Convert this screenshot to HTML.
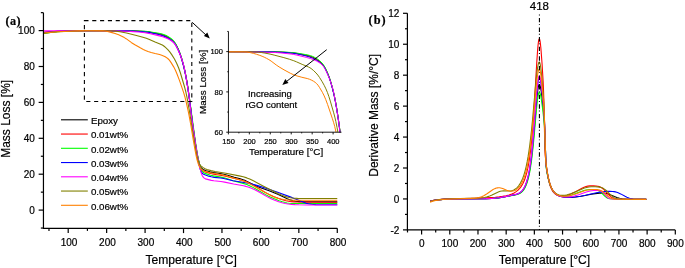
<!DOCTYPE html>
<html><head><meta charset="utf-8"><style>
html,body{margin:0;padding:0;background:#fff;overflow:hidden;}
svg{display:block;will-change:transform;filter:blur(0.25px);}
text{font-family:"Liberation Sans",sans-serif;fill:#000;stroke:#000;stroke-width:0.2px;}
.serif{font-family:"Liberation Serif",serif;font-weight:bold;}
</style></head><body>
<svg width="685" height="268" viewBox="0 0 685 268">
<rect width="685" height="268" fill="#fff"/>
<clipPath id="ca"><rect x="43.45" y="0" width="300" height="228.3"/></clipPath>
<clipPath id="ci"><rect x="228.45" y="20" width="113.03" height="112.19999999999999"/></clipPath>
<!-- panel a curves -->
<g fill="none" stroke-width="1.1" stroke-linejoin="round" clip-path="url(#ca)">
<path d="M43.60 32.63L52.02 31.81L57.70 31.35L63.19 31.03L68.48 30.87L83.17 30.70L100.22 30.71L126.47 30.87L135.48 31.08L145.87 31.60L148.41 31.90L151.75 32.46L158.60 33.76L161.93 34.57L164.68 35.54L167.61 37.02L170.55 38.90L172.71 40.70L174.47 42.65L175.26 43.75L176.04 45.04L178.19 49.34L179.96 53.56L181.52 58.19L183.29 64.46L184.46 69.24L185.64 74.75L186.62 80.03L187.79 87.18L189.75 100.89L192.10 119.65L193.28 128.39L195.63 144.50L197.00 153.03L198.18 158.95L199.35 163.50L199.94 165.20L200.53 166.53L201.12 167.54L201.90 168.50L203.08 169.41L204.45 170.11L206.21 170.73L209.93 171.85L213.66 172.66L221.30 173.77L224.82 174.46L227.57 175.18L234.23 177.16L240.30 178.80L243.04 179.67L244.81 180.34L246.57 181.13L253.62 184.78L257.35 186.49L261.26 188.03L269.10 190.74L272.82 192.14L277.72 194.24L287.32 198.76L290.26 199.90L293.00 200.71L295.16 201.17L297.31 201.47L299.66 201.67L302.41 201.79L337.28 201.84" stroke="#000000"/>
<path d="M43.60 32.28L53.20 31.55L60.06 31.14L66.13 30.91L74.16 30.78L86.90 30.69L110.41 30.75L127.26 30.88L135.09 31.12L145.67 31.78L148.41 32.13L151.55 32.71L158.21 34.11L161.93 35.10L165.26 36.31L168.40 37.89L170.95 39.55L172.12 40.52L173.10 41.45L174.86 43.52L176.43 46.01L178.39 49.94L180.15 54.26L181.72 59.01L183.48 65.40L184.66 70.28L185.84 75.93L186.81 81.34L187.99 88.63L189.75 101.17L193.08 127.52L195.83 146.23L197.20 154.76L198.37 160.69L199.55 165.19L200.14 166.87L200.72 168.19L201.31 169.18L202.10 170.10L203.27 170.96L204.64 171.61L206.99 172.40L210.52 173.45L213.85 174.19L221.69 175.49L225.61 176.29L240.50 179.97L243.24 180.75L245.59 181.54L248.72 182.83L252.06 184.51L254.99 186.22L264.40 191.98L267.34 193.62L270.28 195.11L274.00 196.75L278.11 198.32L282.42 199.76L285.95 200.73L288.50 201.26L291.24 201.67L293.98 201.92L297.12 202.06L306.52 202.16L337.28 202.20" stroke="#ff0000"/>
<path d="M43.60 33.51L50.85 32.53L57.90 31.78L63.78 31.28L68.87 31.03L77.88 30.79L85.52 30.69L125.88 30.69L131.17 30.75L137.44 30.96L144.89 31.35L147.63 31.59L150.57 31.99L158.80 33.32L162.13 34.03L163.50 34.43L164.87 34.94L166.24 35.57L167.81 36.41L170.55 38.20L171.73 39.15L172.71 40.08L173.69 41.13L174.67 42.36L176.24 44.85L178.19 48.87L179.96 53.30L181.72 58.61L183.29 64.21L184.46 69.02L185.44 73.59L186.42 78.75L187.60 85.76L189.56 99.08L194.85 137.76L196.22 146.91L197.59 155.14L198.96 162.04L200.14 166.59L200.72 168.34L201.51 170.13L202.10 171.10L202.88 172.00L203.86 172.77L205.04 173.39L210.52 175.22L213.46 175.91L220.71 177.12L224.04 177.84L226.59 178.57L233.05 180.67L242.26 183.13L246.77 184.60L250.10 185.98L253.43 187.62L256.76 189.48L265.57 194.62L268.12 195.99L270.67 197.25L274.39 198.86L279.09 200.67L282.42 201.82L285.17 202.58L287.12 202.97L289.28 203.26L291.63 203.43L294.37 203.53L337.28 203.64" stroke="#00ff00"/>
<path d="M43.60 32.63L52.02 31.81L57.70 31.35L63.19 31.03L68.28 30.87L83.17 30.70L101.00 30.71L126.08 30.87L133.13 31.08L139.40 31.45L145.87 31.98L149.00 32.41L152.92 33.17L158.01 34.30L162.13 35.50L165.66 36.87L168.79 38.49L171.34 40.17L172.51 41.14L173.49 42.09L174.28 42.96L175.06 43.99L176.63 46.66L178.98 51.57L180.55 55.57L182.11 60.64L183.88 67.32L185.05 72.45L186.03 77.41L187.01 83.01L188.19 90.47L189.95 103.11L192.10 120.75L193.28 129.72L195.63 145.93L197.00 154.54L198.37 161.77L199.75 167.63L200.33 169.55L200.92 171.07L201.51 172.21L202.29 173.22L203.47 174.15L204.84 174.83L208.76 176.15L211.30 176.83L214.24 177.35L220.71 178.05L223.65 178.50L233.05 180.78L242.65 182.30L249.31 183.58L253.82 184.62L258.52 185.90L266.75 188.44L276.15 191.70L291.63 197.39L303.78 202.35L306.13 203.16L308.28 203.74L311.61 204.32L315.73 204.60L337.28 204.71" stroke="#0000ff"/>
<path d="M43.60 30.86L52.61 30.69L97.67 30.73L109.82 30.88L122.75 31.15L128.24 31.31L132.94 31.58L138.62 32.07L144.89 32.77L147.44 33.16L150.37 33.77L159.39 35.86L162.72 36.78L164.68 37.45L166.64 38.25L168.40 39.08L170.16 40.05L172.32 41.52L174.08 43.14L175.26 44.64L176.63 47.01L178.78 51.46L180.55 55.70L182.70 61.90L183.88 66.16L184.66 69.80L185.84 76.14L188.38 91.59L189.36 98.63L191.12 113.65L191.91 119.60L194.85 139.66L197.39 155.31L199.16 164.49L199.94 168.07L200.72 171.21L201.51 173.76L202.10 175.24L202.88 176.69L203.66 177.68L204.45 178.35L205.43 178.85L211.30 180.39L213.85 180.81L220.90 181.55L224.63 182.10L233.64 184.04L243.44 185.82L245.98 186.41L248.14 187.02L251.47 188.25L254.80 189.80L258.13 191.60L266.95 196.63L269.69 198.05L272.24 199.25L275.37 200.54L278.70 201.72L282.03 202.70L285.17 203.43L288.10 203.94L291.44 204.36L294.96 204.65L298.88 204.82L308.09 204.93L337.28 204.98" stroke="#ff00ff"/>
<path d="M43.60 33.34L52.22 32.28L57.70 31.76L65.54 31.35L75.14 30.98L85.33 30.79L108.25 30.78L111.39 30.86L115.50 31.15L120.01 31.77L126.47 33.00L136.46 35.47L142.93 37.27L146.26 38.32L148.81 39.25L155.08 41.97L159.97 43.90L162.32 45.05L163.50 45.79L164.68 46.69L167.81 49.59L169.77 51.82L171.73 54.65L174.47 59.07L176.63 63.17L178.59 67.74L180.35 72.77L184.66 87.26L185.84 91.97L187.01 97.51L189.36 110.56L192.50 130.48L194.85 144.55L196.22 152.37L197.20 157.20L197.98 160.28L198.96 163.05L199.35 163.85L199.94 164.79L200.92 165.86L203.27 167.65L205.04 168.71L206.99 169.46L210.91 170.62L215.03 171.53L225.80 173.30L239.12 175.86L243.24 176.80L246.77 177.90L249.70 179.09L252.84 180.58L263.03 185.91L274.98 192.07L278.31 193.71L280.86 194.85L283.40 195.86L285.75 196.65L288.10 197.29L290.26 197.74L292.41 198.06L294.77 198.27L297.51 198.38L337.28 198.43" stroke="#808000"/>
<path d="M43.60 32.99L52.61 32.13L58.29 31.71L69.66 31.19L79.06 30.88L87.48 30.78L102.77 30.86L104.72 30.99L107.47 31.50L111.19 32.38L115.11 33.57L118.64 34.85L121.77 36.27L124.32 37.61L126.08 38.67L131.57 42.67L134.90 44.79L139.79 47.56L143.32 49.42L145.48 50.47L148.02 51.49L151.16 52.49L155.08 53.54L159.58 54.53L161.74 55.20L163.50 55.92L165.26 56.82L166.64 57.68L168.01 58.75L169.38 60.16L170.95 62.36L173.69 66.87L175.45 70.30L177.02 73.97L178.98 79.13L181.72 86.93L183.88 93.41L184.86 96.72L185.84 100.61L187.79 109.20L188.97 114.85L190.73 124.51L193.28 139.97L194.85 148.99L196.02 155.18L197.00 159.59L198.18 163.67L198.77 165.23L199.55 166.88L200.33 168.13L201.12 169.07L201.90 169.79L202.88 170.46L203.86 170.92L205.23 171.37L210.52 172.69L213.66 173.30L220.71 174.43L224.24 175.20L226.59 175.88L232.86 177.91L240.30 180.01L243.44 181.06L247.16 182.59L251.47 184.71L256.56 187.49L266.36 193.09L270.86 195.42L273.61 196.65L276.15 197.63L278.70 198.45L281.05 199.04L283.60 199.52L286.15 199.84L288.89 200.05L292.22 200.17L337.28 200.23" stroke="#ff8000"/>
</g>
<g stroke="#000" stroke-width="1.2" fill="none">
<path d="M43.45 12.65V228.3H337.28"/>
<line x1="38.65" y1="210.10" x2="43.45" y2="210.10"/>
<line x1="38.65" y1="174.20" x2="43.45" y2="174.20"/>
<line x1="38.65" y1="138.30" x2="43.45" y2="138.30"/>
<line x1="38.65" y1="102.40" x2="43.45" y2="102.40"/>
<line x1="38.65" y1="66.50" x2="43.45" y2="66.50"/>
<line x1="38.65" y1="30.60" x2="43.45" y2="30.60"/>
<line x1="40.85" y1="228.05" x2="43.45" y2="228.05"/>
<line x1="40.85" y1="192.15" x2="43.45" y2="192.15"/>
<line x1="40.85" y1="156.25" x2="43.45" y2="156.25"/>
<line x1="40.85" y1="120.35" x2="43.45" y2="120.35"/>
<line x1="40.85" y1="84.45" x2="43.45" y2="84.45"/>
<line x1="40.85" y1="48.55" x2="43.45" y2="48.55"/>
<line x1="40.85" y1="12.65" x2="43.45" y2="12.65"/>
<line x1="68.20" y1="228.30" x2="68.20" y2="233.10"/>
<line x1="106.64" y1="228.30" x2="106.64" y2="233.10"/>
<line x1="145.08" y1="228.30" x2="145.08" y2="233.10"/>
<line x1="183.52" y1="228.30" x2="183.52" y2="233.10"/>
<line x1="221.96" y1="228.30" x2="221.96" y2="233.10"/>
<line x1="260.40" y1="228.30" x2="260.40" y2="233.10"/>
<line x1="298.84" y1="228.30" x2="298.84" y2="233.10"/>
<line x1="337.28" y1="228.30" x2="337.28" y2="233.10"/>
<line x1="48.98" y1="228.30" x2="48.98" y2="230.90"/>
<line x1="87.42" y1="228.30" x2="87.42" y2="230.90"/>
<line x1="125.86" y1="228.30" x2="125.86" y2="230.90"/>
<line x1="164.30" y1="228.30" x2="164.30" y2="230.90"/>
<line x1="202.74" y1="228.30" x2="202.74" y2="230.90"/>
<line x1="241.18" y1="228.30" x2="241.18" y2="230.90"/>
<line x1="279.62" y1="228.30" x2="279.62" y2="230.90"/>
<line x1="318.06" y1="228.30" x2="318.06" y2="230.90"/>
</g>
<!-- legend -->
<g stroke-width="1.1">
<line x1="61" y1="119.80" x2="87.8" y2="119.80" stroke="#000000"/>
<text x="90.90" y="124.00" font-size="9.75" text-anchor="start">Epoxy</text>
<line x1="61" y1="134.05" x2="87.8" y2="134.05" stroke="#ff0000"/>
<text x="90.90" y="138.25" font-size="9.75" text-anchor="start">0.01wt%</text>
<line x1="61" y1="148.30" x2="87.8" y2="148.30" stroke="#00ff00"/>
<text x="90.90" y="152.50" font-size="9.75" text-anchor="start">0.02wt%</text>
<line x1="61" y1="162.55" x2="87.8" y2="162.55" stroke="#0000ff"/>
<text x="90.90" y="166.75" font-size="9.75" text-anchor="start">0.03wt%</text>
<line x1="61" y1="176.80" x2="87.8" y2="176.80" stroke="#ff00ff"/>
<text x="90.90" y="181.00" font-size="9.75" text-anchor="start">0.04wt%</text>
<line x1="61" y1="191.05" x2="87.8" y2="191.05" stroke="#808000"/>
<text x="90.90" y="195.25" font-size="9.75" text-anchor="start">0.05wt%</text>
<line x1="61" y1="205.30" x2="87.8" y2="205.30" stroke="#ff8000"/>
<text x="90.90" y="209.50" font-size="9.75" text-anchor="start">0.06wt%</text>
</g>
<!-- dashed box + arrow -->
<path d="M84.4 20.6H191.8V101.5H84.4Z" fill="none" stroke="#000" stroke-width="1.1" stroke-dasharray="4.1,3.73"/>
<line x1="192.2" y1="22.3" x2="206.5" y2="35.5" stroke="#000" stroke-width="1"/>
<path d="M209.8 38.6L203.9 35.9L207.3 32.4Z" fill="#000"/>
<!-- inset -->
<g fill="none" stroke-width="1" stroke-linejoin="round" clip-path="url(#ci)">
<path d="M228.40 51.70L251.47 51.76L273.40 51.94L283.88 52.26L290.10 52.59L292.93 52.81L296.90 53.39L304.68 54.88L307.79 55.57L310.34 56.30L312.61 57.16L314.87 58.29L317.42 59.83L319.68 61.47L321.66 63.29L323.36 65.29L324.63 67.25L326.19 70.24L327.89 74.00L329.45 78.01L330.86 82.35L332.28 87.41L333.55 92.48L334.68 97.54L335.82 103.33L336.81 109.06L337.94 116.32L339.21 125.34L341.48 143.49" stroke="#000000"/>
<path d="M228.40 51.70L251.75 51.76L272.98 51.94L282.74 52.30L292.51 52.99L296.47 53.61L303.41 55.07L306.94 55.89L309.92 56.75L312.61 57.75L315.15 58.96L317.70 60.44L319.68 61.87L321.66 63.70L323.36 65.68L324.78 67.83L326.33 70.77L328.03 74.53L329.59 78.60L330.86 82.55L332.28 87.61L333.69 93.28L334.82 98.42L335.82 103.54L336.95 110.13L338.08 117.48L339.21 125.58L341.48 143.99" stroke="#ff0000"/>
<path d="M228.40 51.70L273.55 51.72L282.74 52.00L292.79 52.58L296.61 53.07L305.53 54.54L308.22 55.06L310.48 55.64L312.61 56.40L314.73 57.41L317.13 58.84L319.26 60.35L321.10 62.01L322.94 64.10L324.35 66.17L325.77 68.77L327.47 72.50L329.02 76.53L330.58 81.18L331.99 86.07L333.27 91.03L334.40 95.98L335.39 100.86L336.52 107.17L337.65 114.25L338.79 122.01L341.48 142.17" stroke="#00ff00"/>
<path d="M228.40 51.70L252.32 51.76L272.84 51.94L282.18 52.36L292.51 53.20L296.47 53.81L302.27 55.03L306.10 55.96L309.49 57.00L312.46 58.12L315.29 59.46L317.98 61.04L320.11 62.57L321.95 64.25L323.50 66.09L324.92 68.35L326.47 71.43L328.17 75.19L329.59 78.84L330.86 82.83L332.28 87.99L333.55 93.08L334.68 98.16L335.82 104.04L336.81 109.84L337.94 117.13L339.21 126.14L341.48 144.49" stroke="#0000ff"/>
<path d="M228.40 51.70L249.63 51.87L271.99 52.36L276.23 52.58L280.76 52.93L291.09 54.05L293.78 54.48L296.90 55.14L306.80 57.50L310.62 58.60L313.60 59.70L316.43 61.01L318.97 62.47L320.96 63.90L322.65 65.50L324.07 67.32L325.34 69.54L327.04 73.03L328.74 76.91L330.15 80.58L331.99 86.05L333.13 90.02L334.12 94.46L335.11 99.77L336.66 108.94L338.08 117.92L339.49 128.22L341.48 145.59" stroke="#ff00ff"/>
<path d="M228.40 51.80L251.04 51.80L254.72 51.91L258.54 52.18L261.23 52.49L264.91 53.10L270.01 54.09L274.11 55.08L283.88 57.63L289.68 59.34L293.78 60.73L296.47 61.82L302.13 64.37L306.66 66.19L308.64 67.08L309.92 67.76L311.05 68.48L313.31 70.31L316.00 72.94L317.84 75.06L319.54 77.47L322.23 81.81L324.21 85.35L325.91 88.86L327.47 92.60L328.88 96.57L330.30 101.08L333.69 112.82L334.82 117.10L335.82 121.37L337.09 127.69L338.50 135.59L339.78 143.32L341.48 154.51" stroke="#808000"/>
<path d="M228.40 51.80L243.12 51.87L246.94 52.00L249.77 52.51L253.31 53.33L256.42 54.23L259.82 55.38L262.08 56.24L264.21 57.17L266.47 58.30L268.88 59.64L271.14 61.09L276.23 64.96L279.06 66.87L284.02 69.83L290.67 73.43L293.64 74.76L297.04 75.93L301.85 77.28L307.23 78.52L309.63 79.31L311.76 80.25L313.60 81.27L315.15 82.33L316.57 83.55L317.98 85.16L319.68 87.71L322.37 92.28L324.21 95.94L325.77 99.65L327.61 104.54L332.28 118.29L333.69 122.78L334.68 126.32L337.09 136.76L339.21 147.09L341.48 160.18" stroke="#ff8000"/>
</g>
<g stroke="#000" stroke-width="0.9" fill="none">
<path d="M228.45 31.45V132.2H341.48"/>
<line x1="226.25" y1="132.20" x2="228.45" y2="132.20"/>
<line x1="226.25" y1="91.90" x2="228.45" y2="91.90"/>
<line x1="226.25" y1="51.60" x2="228.45" y2="51.60"/>
<line x1="227.25" y1="112.05" x2="228.45" y2="112.05"/>
<line x1="227.25" y1="71.75" x2="228.45" y2="71.75"/>
<line x1="227.25" y1="31.45" x2="228.45" y2="31.45"/>
<line x1="228.40" y1="132.20" x2="228.40" y2="134.40"/>
<line x1="249.34" y1="132.20" x2="249.34" y2="134.40"/>
<line x1="270.28" y1="132.20" x2="270.28" y2="134.40"/>
<line x1="291.22" y1="132.20" x2="291.22" y2="134.40"/>
<line x1="312.16" y1="132.20" x2="312.16" y2="134.40"/>
<line x1="333.10" y1="132.20" x2="333.10" y2="134.40"/>
<line x1="238.87" y1="132.20" x2="238.87" y2="133.40"/>
<line x1="259.81" y1="132.20" x2="259.81" y2="133.40"/>
<line x1="280.75" y1="132.20" x2="280.75" y2="133.40"/>
<line x1="301.69" y1="132.20" x2="301.69" y2="133.40"/>
<line x1="322.63" y1="132.20" x2="322.63" y2="133.40"/>
</g>
<line x1="326.7" y1="49.7" x2="285.5" y2="82.3" stroke="#000" stroke-width="1"/>
<path d="M282.3 84.9L285.3 78.9L288.5 82.9Z" fill="#000"/>
<!-- panel b curves -->
<g fill="none" stroke-width="1.1" stroke-linejoin="round">
<path d="M430.06 201.24L433.09 200.54L436.46 200.00L440.44 199.59L445.11 199.30L455.93 199.00L486.04 198.69L491.66 198.47L496.33 198.09L499.53 197.68L502.91 197.11L516.75 194.35L518.31 193.84L519.69 193.17L520.99 192.27L522.12 191.22L523.41 189.62L524.63 187.63L525.66 185.46L526.70 182.72L527.65 179.61L528.52 176.16L529.38 172.00L530.16 167.54L531.55 157.65L532.93 144.90L534.14 131.42L536.39 103.90L537.34 93.95L537.86 89.73L538.38 86.65L538.90 84.87L539.07 84.59L539.33 84.46L539.51 84.55L539.77 84.91L540.29 86.40L540.72 88.38L541.24 91.52L542.62 102.69L543.92 115.59L544.35 121.55L544.78 130.10L545.91 162.27L546.17 166.12L546.43 168.34L547.21 172.98L548.07 177.29L548.94 180.87L549.89 184.08L550.93 186.87L551.97 189.08L553.18 191.08L554.47 192.70L555.51 193.70L556.64 194.56L557.85 195.29L559.15 195.89L560.62 196.39L562.18 196.78L563.99 197.09L565.90 197.28L568.15 197.38L570.57 197.37L573.16 197.23L575.85 196.98L581.38 196.17L591.33 194.26L595.31 193.61L599.64 193.14L603.71 193.02L605.52 193.20L607.51 193.69L609.59 194.43L614.43 196.51L616.86 197.42L619.63 198.23L622.39 198.76L625.60 199.11L629.58 199.30L646.27 199.39" stroke="#000000"/>
<path d="M430.06 201.07L432.74 200.43L435.77 199.91L439.23 199.49L443.21 199.17L451.77 198.80L474.96 198.28L485.78 197.90L495.29 197.29L499.19 196.88L502.56 196.41L506.02 195.75L509.05 194.96L511.73 194.02L514.07 192.92L516.15 191.64L518.05 190.11L519.69 188.41L521.25 186.37L522.81 183.74L524.19 180.76L525.49 177.20L526.62 173.34L527.65 168.95L528.69 163.56L529.56 158.11L530.42 151.61L531.20 144.70L531.89 137.59L533.28 120.28L534.49 101.68L536.74 62.90L537.60 50.24L538.04 45.33L538.47 41.68L538.90 39.47L539.16 38.89L539.33 38.82L539.51 39.00L539.68 39.41L540.11 41.44L540.46 44.02L540.89 48.30L542.02 63.21L543.14 81.58L543.57 91.49L543.92 103.13L544.78 145.27L545.04 152.52L545.30 156.29L546.00 163.08L546.77 169.41L547.55 174.58L548.42 179.20L549.37 183.16L550.32 186.22L551.45 188.96L552.66 191.11L553.61 192.39L554.73 193.53L555.95 194.44L557.33 195.16L558.80 195.65L560.44 195.95L562.18 196.04L564.08 195.92L565.72 195.65L567.37 195.25L569.10 194.69L570.91 193.98L574.29 192.37L581.90 188.25L584.07 187.28L585.97 186.59L587.87 186.11L589.78 185.87L593.58 185.87L596.09 185.99L597.82 186.23L599.29 186.62L600.68 187.20L602.06 188.02L603.27 188.96L604.48 190.08L608.72 194.76L610.45 196.43L611.41 197.17L612.36 197.77L613.40 198.26L614.43 198.60L615.65 198.86L617.12 199.03L622.22 199.24L630.70 199.36L646.27 199.40" stroke="#ff0000"/>
<path d="M430.06 201.24L433.09 200.54L436.55 199.99L440.53 199.59L445.20 199.29L456.10 199.00L486.04 198.70L491.57 198.50L496.16 198.14L499.10 197.78L502.22 197.29L516.92 194.54L518.48 194.06L519.78 193.47L521.08 192.62L522.20 191.64L523.50 190.12L524.63 188.39L525.66 186.36L526.70 183.81L527.65 180.91L528.52 177.70L529.38 173.82L530.16 169.66L531.55 160.44L532.93 148.55L534.14 135.98L536.39 110.32L537.34 101.05L537.86 97.11L538.38 94.23L538.90 92.57L539.07 92.31L539.33 92.19L539.51 92.27L539.77 92.59L540.29 93.93L540.80 96.14L541.32 99.09L542.71 109.38L544.01 121.20L544.44 126.63L544.87 134.35L546.00 164.01L546.26 167.85L546.51 170.06L547.29 174.38L548.16 178.38L549.02 181.70L549.98 184.70L551.01 187.31L552.05 189.37L553.18 191.12L554.47 192.65L555.51 193.58L556.64 194.37L557.85 195.01L559.15 195.51L560.53 195.87L562.09 196.10L563.73 196.18L565.38 196.12L568.40 195.71L571.61 194.92L574.72 193.88L581.99 191.17L583.98 190.54L585.80 190.08L587.70 189.73L589.52 189.56L594.62 189.63L596.01 189.79L597.13 190.04L598.25 190.45L599.29 191.00L600.24 191.66L601.28 192.55L604.66 195.99L606.04 197.21L606.82 197.74L607.69 198.20L608.55 198.52L609.42 198.72L612.01 198.96L624.90 199.29L646.27 199.39" stroke="#00ff00"/>
<path d="M430.06 201.24L433.09 200.54L436.46 200.00L440.35 199.60L445.03 199.30L455.75 199.00L486.04 198.67L491.83 198.44L496.51 198.04L499.88 197.59L503.51 196.95L514.85 194.61L516.58 194.19L518.22 193.62L519.61 192.91L520.90 191.96L522.12 190.77L523.41 189.06L524.63 186.95L525.66 184.64L526.70 181.74L527.65 178.43L528.52 174.77L529.38 170.36L530.16 165.63L531.55 155.14L532.93 141.61L534.14 127.31L536.39 98.12L537.34 87.57L537.86 83.09L538.38 79.81L538.90 77.93L539.07 77.63L539.33 77.49L539.51 77.59L539.77 77.98L540.29 79.62L540.72 81.80L541.24 85.25L542.53 96.58L543.83 110.49L544.27 116.94L544.70 126.27L545.74 158.88L546.00 163.52L546.26 166.13L547.03 171.22L547.90 175.89L548.76 179.76L549.72 183.22L550.75 186.22L551.79 188.58L553.00 190.70L554.30 192.41L555.51 193.62L556.90 194.66L558.45 195.51L560.19 196.18L562.18 196.70L564.34 197.04L566.85 197.24L569.62 197.27L572.13 197.17L574.72 196.97L580.26 196.21L585.36 195.22L596.44 192.75L601.72 191.84L604.40 191.54L606.99 191.38L609.94 191.37L612.44 191.47L614.00 191.64L615.39 191.89L616.77 192.26L618.15 192.74L620.66 193.89L625.08 196.34L626.89 197.26L628.88 198.07L630.87 198.66L633.21 199.07L635.89 199.29L646.27 199.39" stroke="#0000ff"/>
<path d="M430.06 201.24L433.09 200.54L436.46 200.00L440.35 199.60L445.03 199.30L455.75 199.00L486.04 198.67L491.83 198.44L496.59 198.03L499.97 197.56L503.69 196.90L514.85 194.57L516.58 194.15L518.22 193.56L519.61 192.84L520.90 191.88L522.12 190.67L523.41 188.94L524.63 186.80L525.66 184.46L526.70 181.52L527.65 178.17L528.52 174.47L529.38 170.00L530.16 165.21L531.55 154.58L532.93 140.88L534.14 126.40L536.39 96.84L537.34 86.15L537.86 81.62L538.38 78.30L538.90 76.39L539.07 76.09L539.33 75.96L539.51 76.06L539.77 76.46L540.29 78.13L540.72 80.36L541.24 83.88L542.62 96.30L543.83 109.66L544.27 116.34L544.61 123.78L545.74 159.09L546.00 163.50L546.26 166.00L546.95 170.59L547.81 175.40L548.68 179.38L549.63 182.94L550.67 186.02L551.71 188.43L552.92 190.61L554.22 192.36L555.34 193.52L556.64 194.54L558.02 195.35L559.58 196.01L561.31 196.51L563.21 196.85L565.29 197.02L567.45 197.01L569.27 196.88L571.17 196.64L573.08 196.28L575.07 195.80L578.61 194.72L586.31 192.02L590.04 191.01L591.85 190.70L593.67 190.52L598.17 190.57L599.29 190.71L600.24 190.94L601.11 191.28L601.98 191.77L602.75 192.35L603.62 193.15L606.47 196.32L607.69 197.47L608.38 197.96L609.07 198.34L610.54 198.79L612.79 198.98L625.42 199.30L646.27 199.39" stroke="#ff00ff"/>
<path d="M430.06 201.40L432.74 200.68L435.77 200.08L439.23 199.62L443.21 199.26L452.12 198.82L476.78 198.16L481.19 197.89L484.57 197.46L487.16 196.88L489.67 196.05L492.01 195.03L497.28 192.40L498.84 191.78L500.31 191.33L501.87 191.03L503.43 190.90L508.27 191.05L509.83 191.02L511.30 190.83L512.69 190.46L514.24 189.78L515.71 188.83L517.10 187.61L518.48 186.04L519.95 183.91L521.34 181.37L522.64 178.44L523.85 175.09L524.97 171.34L526.10 166.85L527.13 161.93L528.09 156.66L528.95 151.14L529.82 144.86L531.46 130.69L532.93 115.59L535.70 84.40L536.91 72.70L537.52 68.14L538.12 64.73L538.73 62.64L538.99 62.19L539.25 62.00L539.51 62.12L539.68 62.41L540.11 63.84L540.54 66.22L541.06 70.16L542.28 82.59L543.57 99.06L544.01 106.80L544.35 115.57L545.39 154.05L545.65 159.33L545.91 162.24L546.69 168.17L547.47 173.10L548.33 177.61L549.20 181.27L550.15 184.48L551.19 187.20L552.31 189.45L553.52 191.26L554.47 192.33L555.51 193.24L556.64 193.98L557.94 194.59L559.32 195.01L560.79 195.25L562.35 195.33L564.08 195.24L565.64 195.03L567.19 194.71L570.57 193.72L573.94 192.43L582.16 188.91L584.50 188.07L586.66 187.45L588.91 187.00L591.07 186.79L595.23 186.80L597.82 186.92L599.55 187.14L601.11 187.52L602.58 188.08L603.97 188.84L605.18 189.68L606.47 190.76L610.80 195.05L612.62 196.64L613.66 197.36L614.61 197.90L615.65 198.35L616.68 198.67L617.81 198.90L619.19 199.07L623.26 199.26L631.31 199.36L646.27 199.39" stroke="#808000"/>
<path d="M430.06 202.21L432.74 201.28L435.68 200.54L439.06 199.95L442.95 199.49L447.02 199.19L451.86 198.95L471.24 198.41L474.53 198.18L477.21 197.84L479.03 197.46L480.67 197.00L482.23 196.42L483.79 195.70L486.64 194.02L491.31 190.71L493.04 189.58L494.86 188.62L496.51 188.04L497.54 187.83L498.58 187.75L499.62 187.79L500.66 187.95L502.74 188.55L506.72 190.15L508.45 190.74L510.26 191.12L511.91 191.19L512.94 191.07L513.90 190.84L514.85 190.49L515.80 190.00L516.75 189.37L517.62 188.67L519.26 186.93L520.73 184.87L522.03 182.55L523.24 179.88L524.45 176.61L525.58 172.91L526.62 168.82L527.57 164.38L528.52 159.19L529.38 153.72L530.16 148.13L531.72 134.89L533.19 119.94L535.87 89.98L537.00 79.23L537.60 74.72L538.12 71.79L538.73 69.65L538.99 69.18L539.25 68.99L539.51 69.10L539.68 69.36L540.11 70.64L540.54 72.78L541.06 76.34L542.28 87.63L543.66 103.65L544.18 112.23L544.52 120.55L545.56 156.25L545.82 161.24L546.08 164.01L546.77 168.98L547.64 174.16L548.50 178.42L549.46 182.21L550.41 185.22L551.45 187.81L552.57 189.97L553.87 191.84L554.91 192.97L556.03 193.92L557.24 194.69L558.63 195.33L560.10 195.79L561.66 196.09L563.39 196.23L565.20 196.22L568.40 195.85L571.95 195.04L575.33 193.97L583.11 191.17L585.28 190.52L587.18 190.06L589.17 189.73L591.07 189.56L594.62 189.57L596.87 189.67L598.25 189.83L599.55 190.11L600.76 190.53L601.89 191.08L602.93 191.74L604.05 192.60L607.77 195.99L609.24 197.15L610.97 198.14L611.93 198.49L612.88 198.73L614.17 198.92L615.82 199.04L624.21 199.28L646.27 199.39" stroke="#ff8000"/>
</g>
<line x1="539.43" y1="14.6" x2="539.43" y2="229.95" stroke="#000" stroke-width="1.1" stroke-dasharray="4.4,1.9,0.9,2.4" stroke-dashoffset="6.3"/>
<g stroke="#000" stroke-width="1.2" fill="none">
<path d="M407.4 13.30V229.95H675.31"/>
<line x1="403.00" y1="229.88" x2="407.40" y2="229.88"/>
<line x1="403.00" y1="198.94" x2="407.40" y2="198.94"/>
<line x1="403.00" y1="168.00" x2="407.40" y2="168.00"/>
<line x1="403.00" y1="137.06" x2="407.40" y2="137.06"/>
<line x1="403.00" y1="106.12" x2="407.40" y2="106.12"/>
<line x1="403.00" y1="75.18" x2="407.40" y2="75.18"/>
<line x1="403.00" y1="44.24" x2="407.40" y2="44.24"/>
<line x1="403.00" y1="13.30" x2="407.40" y2="13.30"/>
<line x1="405.00" y1="214.41" x2="407.40" y2="214.41"/>
<line x1="405.00" y1="183.47" x2="407.40" y2="183.47"/>
<line x1="405.00" y1="152.53" x2="407.40" y2="152.53"/>
<line x1="405.00" y1="121.59" x2="407.40" y2="121.59"/>
<line x1="405.00" y1="90.65" x2="407.40" y2="90.65"/>
<line x1="405.00" y1="59.71" x2="407.40" y2="59.71"/>
<line x1="405.00" y1="28.77" x2="407.40" y2="28.77"/>
<line x1="421.60" y1="229.95" x2="421.60" y2="234.55"/>
<line x1="449.79" y1="229.95" x2="449.79" y2="234.55"/>
<line x1="477.98" y1="229.95" x2="477.98" y2="234.55"/>
<line x1="506.17" y1="229.95" x2="506.17" y2="234.55"/>
<line x1="534.36" y1="229.95" x2="534.36" y2="234.55"/>
<line x1="562.55" y1="229.95" x2="562.55" y2="234.55"/>
<line x1="590.74" y1="229.95" x2="590.74" y2="234.55"/>
<line x1="618.93" y1="229.95" x2="618.93" y2="234.55"/>
<line x1="647.12" y1="229.95" x2="647.12" y2="234.55"/>
<line x1="675.31" y1="229.95" x2="675.31" y2="234.55"/>
<line x1="407.50" y1="229.95" x2="407.50" y2="232.45"/>
<line x1="435.70" y1="229.95" x2="435.70" y2="232.45"/>
<line x1="463.88" y1="229.95" x2="463.88" y2="232.45"/>
<line x1="492.08" y1="229.95" x2="492.08" y2="232.45"/>
<line x1="520.26" y1="229.95" x2="520.26" y2="232.45"/>
<line x1="548.46" y1="229.95" x2="548.46" y2="232.45"/>
<line x1="576.64" y1="229.95" x2="576.64" y2="232.45"/>
<line x1="604.84" y1="229.95" x2="604.84" y2="232.45"/>
<line x1="633.02" y1="229.95" x2="633.02" y2="232.45"/>
<line x1="661.22" y1="229.95" x2="661.22" y2="232.45"/>
</g>
<!-- text -->
<g>
<text x="34.80" y="213.85" font-size="10.00" text-anchor="end">0</text>
<text x="34.80" y="177.95" font-size="10.00" text-anchor="end">20</text>
<text x="34.80" y="142.05" font-size="10.00" text-anchor="end">40</text>
<text x="34.80" y="106.15" font-size="10.00" text-anchor="end">60</text>
<text x="34.80" y="70.25" font-size="10.00" text-anchor="end">80</text>
<text x="34.80" y="34.35" font-size="10.00" text-anchor="end">100</text>
<text x="69.00" y="245.75" font-size="10.00" text-anchor="middle">100</text>
<text x="107.44" y="245.75" font-size="10.00" text-anchor="middle">200</text>
<text x="145.88" y="245.75" font-size="10.00" text-anchor="middle">300</text>
<text x="184.32" y="245.75" font-size="10.00" text-anchor="middle">400</text>
<text x="222.76" y="245.75" font-size="10.00" text-anchor="middle">500</text>
<text x="261.20" y="245.75" font-size="10.00" text-anchor="middle">600</text>
<text x="299.64" y="245.75" font-size="10.00" text-anchor="middle">700</text>
<text x="338.08" y="245.75" font-size="10.00" text-anchor="middle">800</text>
<text x="222.90" y="134.85" font-size="7.50" text-anchor="end">60</text>
<text x="222.90" y="94.55" font-size="7.50" text-anchor="end">80</text>
<text x="222.90" y="54.25" font-size="7.50" text-anchor="end">100</text>
<text x="228.60" y="143.50" font-size="7.50" text-anchor="middle">150</text>
<text x="249.54" y="143.50" font-size="7.50" text-anchor="middle">200</text>
<text x="270.48" y="143.50" font-size="7.50" text-anchor="middle">250</text>
<text x="291.42" y="143.50" font-size="7.50" text-anchor="middle">300</text>
<text x="312.36" y="143.50" font-size="7.50" text-anchor="middle">350</text>
<text x="333.30" y="143.50" font-size="7.50" text-anchor="middle">400</text>
<text x="399.40" y="233.63" font-size="10.00" text-anchor="end">-2</text>
<text x="399.40" y="202.69" font-size="10.00" text-anchor="end">0</text>
<text x="399.40" y="171.75" font-size="10.00" text-anchor="end">2</text>
<text x="399.40" y="140.81" font-size="10.00" text-anchor="end">4</text>
<text x="399.40" y="109.87" font-size="10.00" text-anchor="end">6</text>
<text x="399.40" y="78.93" font-size="10.00" text-anchor="end">8</text>
<text x="399.40" y="47.99" font-size="10.00" text-anchor="end">10</text>
<text x="399.40" y="17.05" font-size="10.00" text-anchor="end">12</text>
<text x="421.70" y="246.80" font-size="10.00" text-anchor="middle">0</text>
<text x="449.89" y="246.80" font-size="10.00" text-anchor="middle">100</text>
<text x="478.08" y="246.80" font-size="10.00" text-anchor="middle">200</text>
<text x="506.27" y="246.80" font-size="10.00" text-anchor="middle">300</text>
<text x="534.46" y="246.80" font-size="10.00" text-anchor="middle">400</text>
<text x="562.65" y="246.80" font-size="10.00" text-anchor="middle">500</text>
<text x="590.84" y="246.80" font-size="10.00" text-anchor="middle">600</text>
<text x="619.03" y="246.80" font-size="10.00" text-anchor="middle">700</text>
<text x="647.22" y="246.80" font-size="10.00" text-anchor="middle">800</text>
<text x="675.41" y="246.80" font-size="10.00" text-anchor="middle">900</text>
<text x="191.20" y="264.00" font-size="12.10" text-anchor="middle">Temperature [°C]</text>
<text transform="translate(10.40,118.85) rotate(-90)" font-size="12.00" text-anchor="middle">Mass Loss [%]</text>
<text x="286.10" y="155.20" font-size="9.80" text-anchor="middle">Temperature [°C]</text>
<text transform="translate(205.90,81.85) rotate(-90)" font-size="9.90" text-anchor="middle">Mass Loss [%]</text>
<text x="269.90" y="97.00" font-size="9.50" text-anchor="middle">Increasing</text>
<text x="271.30" y="107.60" font-size="9.50" text-anchor="middle">rGO content</text>
<text x="539.43" y="9.80" font-size="11.50" text-anchor="middle">418</text>
<text x="544.40" y="264.00" font-size="12.10" text-anchor="middle">Temperature [°C]</text>
<text transform="translate(377.50,115.35) rotate(-90)" font-size="12.00" text-anchor="middle">Derivative Mass [%/°C]</text>
<text class="serif" x="5.4" y="24.6" font-size="12.2" letter-spacing="0.45">(a)</text>
<text class="serif" x="368.45" y="24.4" font-size="12.3" letter-spacing="1.1">(b)</text>
</g>
</svg>
</body></html>
